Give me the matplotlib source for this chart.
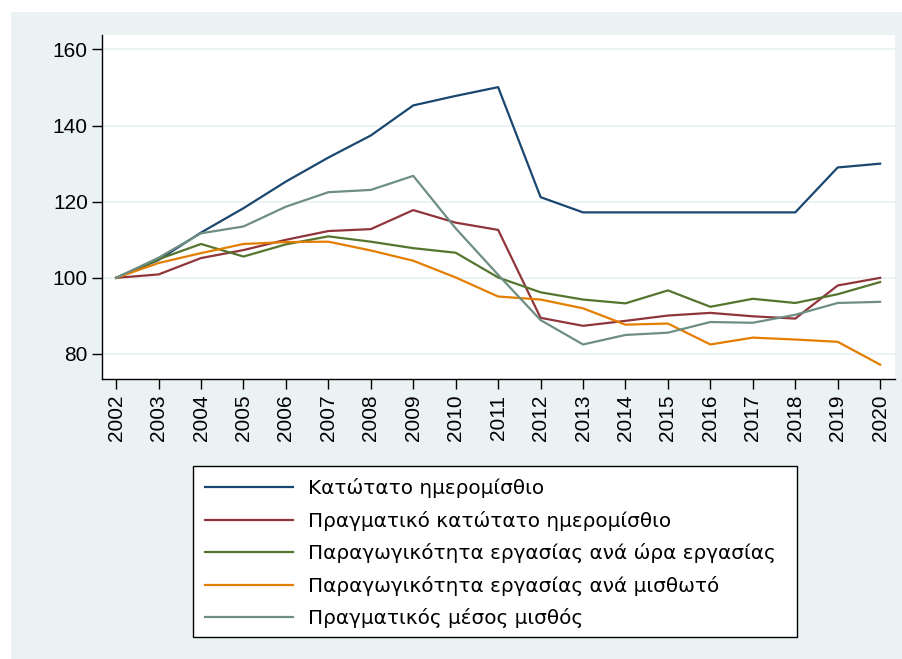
import matplotlib
matplotlib.use("Agg")
import matplotlib.pyplot as plt
from matplotlib.patches import Rectangle

years = list(range(2002, 2021))

min_wage = [100, 104.7, 111.9, 118.3, 125.3, 131.6, 137.4, 145.3, 147.8, 150.1,
            121.2, 117.2, 117.2, 117.2, 117.2, 117.2, 117.2, 129.0, 130.0]
real_min_wage = [100, 100.9, 105.2, 107.3, 110.0, 112.3, 112.8, 117.8, 114.5, 112.6,
                 89.5, 87.4, 88.7, 90.1, 90.8, 89.9, 89.3, 98.0, 100.0]
prod_hour = [100, 104.9, 108.9, 105.6, 108.8, 110.9, 109.5, 107.8, 106.6, 100.1,
             96.2, 94.3, 93.3, 96.7, 92.4, 94.5, 93.4, 95.7, 98.9]
prod_employee = [100, 103.9, 106.5, 108.9, 109.4, 109.5, 107.2, 104.5, 100.1, 95.1,
                 94.3, 92.0, 87.7, 88.0, 82.5, 84.3, 83.8, 83.2, 77.2]
real_avg_wage = [100, 105.3, 111.7, 113.5, 118.7, 122.5, 123.1, 126.8, 113.0, 100.8,
                 88.9, 82.5, 85.0, 85.6, 88.4, 88.2, 90.3, 93.4, 93.7]

labels = [
    "Κατώτατο ημερομίσθιο",
    "Πραγματικό κατώτατο ημερομίσθιο",
    "Παραγωγικότητα εργασίας ανά ώρα εργασίας",
    "Παραγωγικότητα εργασίας ανά μισθωτό",
    "Πραγματικός μέσος μισθός",
]
colors = ["#1a476f", "#90353b", "#55752f", "#e37e00", "#6e8e84"]
yticks = [80, 100, 120, 140, 160]

plt.rcParams['font.family'] = ['Liberation Sans', 'DejaVu Sans']

W, H = 902, 659
bg = "#eaf2f3"
fig = plt.figure(figsize=(W / 100, H / 100), dpi=100, facecolor="white")

# stata-like outer panel
fig.patches.append(Rectangle((11 / W, 0), 1 - 11 / W, 1 - 12 / H,
                             transform=fig.transFigure, facecolor=bg,
                             edgecolor="none", zorder=-10))

ax = fig.add_axes([101.7 / W, 1 - 379.3 / H, (895 - 101.7) / W, (379.3 - 35) / H])
ax.set_facecolor("white")

series = [min_wage, real_min_wage, prod_hour, prod_employee, real_avg_wage]
handles = []
for vals, c, lab in zip(series, colors, labels):
    h, = ax.plot(years, vals, color=c, lw=1.6, label=lab)
    handles.append(h)

ax.set_xlim(2001.66, 2020.35)
ax.set_ylim(73.35, 163.8)
ax.set_xticks(years)
ax.set_xticklabels([str(y) for y in years], rotation=90, fontsize=15)
ax.set_yticks(yticks)
ax.set_yticklabels([str(v) for v in yticks], fontsize=15)
ax.tick_params(axis="both", direction="out", length=7, width=1, color="black")
ax.tick_params(axis="x", pad=4)
ax.tick_params(axis="y", pad=3)

ax.grid(axis="y", color=bg, lw=1.3)
ax.set_axisbelow(True)
for s in ["top", "right"]:
    ax.spines[s].set_visible(False)
for s in ["left", "bottom"]:
    ax.spines[s].set_linewidth(1)
    ax.spines[s].set_color("black")

# legend box drawn separately so it can be wider than its text
fig.patches.append(Rectangle((193 / W, 1 - 637 / H), (797 - 193) / W, (637 - 466) / H,
                             transform=fig.transFigure, facecolor="white",
                             edgecolor="black", lw=1, zorder=1))

fs = 14.4
leg = fig.legend(handles=handles, labels=labels,
                 loc="upper left",
                 bbox_to_anchor=(193 / W, 1 - 466 / H),
                 frameon=False,
                 prop={"family": ["DejaVu Sans"], "size": fs},
                 handlelength=4.4, handletextpad=0.74,
                 labelspacing=0.63, borderpad=0.6, borderaxespad=0)
leg.set_zorder(2)

fig.savefig("out.png", dpi=100, facecolor=fig.get_facecolor())
